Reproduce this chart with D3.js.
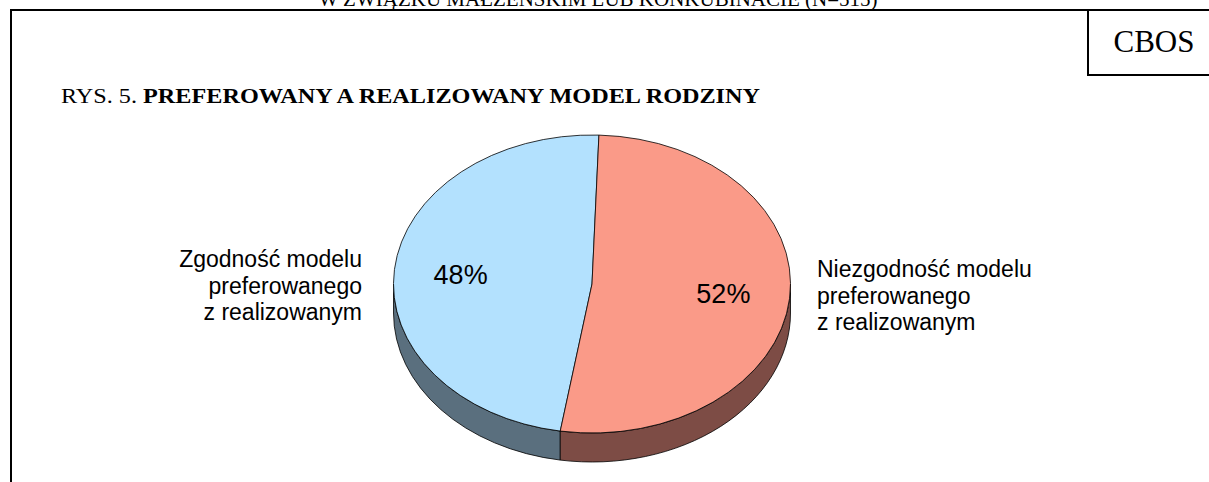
<!DOCTYPE html>
<html>
<head>
<meta charset="utf-8">
<script src="https://cdn.jsdelivr.net/npm/d3@7"></script>
<style>
  body { margin: 0; background: #fff; }
  svg { display: block; }
</style>
</head>
<body>
<div id="chart"></div>
<script>
var svgWidth = 1209;
var svgHeight = 482;

// Data
var categories = ["Zgodność modelu preferowanego z realizowanym",
                  "Niezgodność modelu preferowanego z realizowanym"];
var values = [48, 52];
var labelLines = [["Zgodność modelu", "preferowanego", "z realizowanym"],
                  ["Niezgodność modelu", "preferowanego", "z realizowanym"]];
var topColors = ["#b3e1fe", "#fa9a88"];
var sideColors = ["#5a6f7e", "#7d4c45"];

// Pie geometry (ellipse seen from above)
var cx = 592, cy = 284, rx = 198.5, ry = 149, depth = 29;

var svg = d3.select("#chart")
  .append("svg")
  .attr("width", svgWidth)
  .attr("height", svgHeight);

// Frame
svg.append("path")
  .attr("d", "M11,482 L11,10 L1209,10")
  .attr("fill", "none").attr("stroke", "#000").attr("stroke-width", 2);
svg.append("path")
  .attr("d", "M1088,10 L1088,75 L1209,75")
  .attr("fill", "none").attr("stroke", "#000").attr("stroke-width", 2);

svg.append("text")
  .attr("x", 598).attr("y", 6)
  .attr("text-anchor", "middle")
  .style("font-family", "'Liberation Serif', 'Times New Roman', serif")
  .style("font-size", "21px")
  .text("W ZWIĄZKU MAŁŻEŃSKIM LUB KONKUBINACIE (N=515)");

svg.append("text")
  .attr("x", 1154).attr("y", 52)
  .attr("text-anchor", "middle")
  .style("font-family", "'Liberation Serif', 'Times New Roman', serif")
  .style("font-size", "31px")
  .text("CBOS");

var title = svg.append("text")
  .attr("x", 61).attr("y", 103)
  .attr("textLength", 699)
  .attr("lengthAdjust", "spacingAndGlyphs")
  .style("font-family", "'Liberation Serif', 'Times New Roman', serif")
  .style("font-size", "20px");
title.append("tspan").text("RYS. 5. ");
title.append("tspan").style("font-weight", "bold").text("PREFEROWANY A REALIZOWANY MODEL RODZINY");

// Angles: clockwise from the top
var startDeg = 189.2;
var pie = d3.pie()
  .sort(null)
  .startAngle(startDeg * Math.PI / 180)
  .endAngle(startDeg * Math.PI / 180 + 2 * Math.PI);
var arcs = pie(values);

function pt(a, k, dy) {
  k = k == null ? 1 : k;
  return [cx + k * rx * Math.sin(a), cy - k * ry * Math.cos(a) + (dy || 0)];
}

function topPath(d) {
  var p0 = pt(d.startAngle), p1 = pt(d.endAngle);
  var large = (d.endAngle - d.startAngle) > Math.PI ? 1 : 0;
  return "M" + cx + "," + cy + "L" + p0 + "A" + rx + "," + ry + " 0 " + large + " 1 " + p1 + "Z";
}

// visible front wall: angles between 90 and 270 degrees
function sidePath(d) {
  var lo = Math.PI / 2, hi = 3 * Math.PI / 2;
  var out = "";
  [-2 * Math.PI, 0, 2 * Math.PI].forEach(function (off) {
    var s = Math.max(d.startAngle + off, lo);
    var e = Math.min(d.endAngle + off, hi);
    if (e <= s) return;
    var a = pt(s), b = pt(e), c = pt(e, 1, depth), f = pt(s, 1, depth);
    out += "M" + a + "A" + rx + "," + ry + " 0 0 1 " + b + "L" + c +
      "A" + rx + "," + ry + " 0 0 0 " + f + "Z";
  });
  return out;
}

var pieG = svg.append("g");

pieG.selectAll("path.side")
  .data(arcs)
  .enter()
  .append("path")
  .attr("class", "side")
  .attr("d", sidePath)
  .attr("fill", (d, i) => sideColors[i])
  .attr("stroke", "#000")
  .attr("stroke-width", 0.8);

pieG.selectAll("path.top")
  .data(arcs)
  .enter()
  .append("path")
  .attr("class", "top")
  .attr("d", topPath)
  .attr("fill", (d, i) => topColors[i])
  .attr("stroke", "#000")
  .attr("stroke-width", 0.8);

// Percent labels inside slices
pieG.selectAll("text.pct")
  .data(arcs)
  .enter()
  .append("text")
  .attr("class", "pct")
  .attr("x", d => pt((d.startAngle + d.endAngle) / 2, 0.665)[0])
  .attr("y", d => pt((d.startAngle + d.endAngle) / 2, 0.665)[1])
  .attr("dy", "0.36em")
  .attr("text-anchor", "middle")
  .style("font-family", "'Liberation Sans', Arial, sans-serif")
  .style("font-size", "27px")
  .text(d => d.data + "%");

// Category labels at the sides
var labelPos = [{ x: 362, y: 267, anchor: "end" }, { x: 817, y: 277, anchor: "start" }];
labelLines.forEach(function (lines, i) {
  var t = svg.append("text")
    .attr("x", labelPos[i].x)
    .attr("y", labelPos[i].y)
    .attr("text-anchor", labelPos[i].anchor)
    .style("font-family", "'Liberation Sans', Arial, sans-serif")
    .style("font-size", "23px");
  lines.forEach(function (line, j) {
    t.append("tspan")
      .attr("x", labelPos[i].x)
      .attr("dy", j === 0 ? 0 : 26.5)
      .text(line);
  });
});
</script>
</body>
</html>
